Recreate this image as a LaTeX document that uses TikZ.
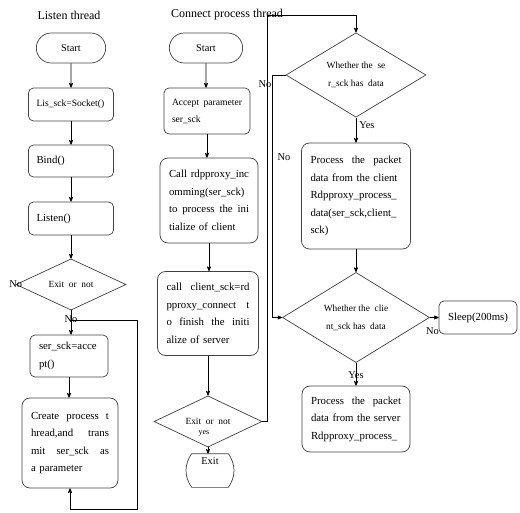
\documentclass[tikz,border=0pt]{standalone}
\usepackage{fontspec}
\setmainfont{Liberation Serif}
\usetikzlibrary{shapes.geometric, shapes.misc, arrows}

\newcommand{\jline}[1]{{\spaceskip=0.3em plus 2em\relax\makebox[\hsize][s]{#1}}}

\tikzset{
  flow/.style={draw=black!75, line width=0.7pt},
  box/.style={flow, rectangle, rounded corners=5pt, align=left, inner xsep=9pt, inner ysep=3pt,
    font=\fontsize{10.8}{17.5}\selectfont},
  smallbox/.style={box, font=\fontsize{9.6}{17}\selectfont},
  term/.style={flow, rounded rectangle, minimum height=30pt, font=\fontsize{10.4}{12}\selectfont},
  decide/.style={flow, diamond, inner sep=0pt, align=center, font=\fontsize{9.4}{18}\selectfont},
  lbl/.style={inner sep=1pt, font=\fontsize{10.4}{12}\selectfont},
  title/.style={font=\fontsize{12}{14}\selectfont},
}

\begin{document}
\begin{tikzpicture}[x=1pt,y=-1pt,>=stealth',line width=0.7pt]
        \useasboundingbox (0,0) rectangle (520,513);
        % titles
        \node[title](t_listen) at (69,15) {Listen thread};
        \node[title](t_conn) at (227,15) {Connect process thread};

        % listen thread
        \node[term,minimum width=76pt](start_l) at (71,48) {Start};
        \node[smallbox,text width=69pt,inner xsep=8pt,minimum height=33pt](lis_sck) at (71,104.5) {Lis\_sck=Socket()};
        \node[box,text width=69pt,inner xsep=8pt,minimum height=32pt](bind) at (71,161) {Bind()};
        \node[box,text width=69pt,inner xsep=8pt,minimum height=33pt](listen) at (71,218.5) {Listen()};
        \node[decide,minimum width=110pt,minimum height=45pt](exit_l) at (71,284.5) {Exit\ \ or\ \ not};
        \node[box,text width=60pt,minimum height=42pt](accept) at (69,356) {ser\_sck=acce\\pt()};
        \node[box,text width=78pt,minimum height=90pt,rounded corners=8pt](create_t) at (70,443)
            {\jline{Create process t}\\\jline{hread,and trans}\\\jline{mit ser\_sck as}\\a parameter};

        % connect process thread
        \node[term,minimum width=80pt](start_c) at (206,48) {Start};
        \node[smallbox,text width=70pt,inner xsep=8pt,minimum height=46pt](param) at (207,111) {\jline{Accept parameter}\\ser\_sck};
        \node[box,text width=80pt,minimum height=85pt,rounded corners=8pt](incom) at (209,200.5)
            {\jline{Call rdpproxy\_inc}\\\jline{omming(ser\_sck)}\\\jline{to process the ini}\\tialize of client};
        \node[box,text width=83pt,minimum height=84pt,rounded corners=8pt](connect) at (208,313.5)
            {\jline{call client\_sck=rd}\\\jline{pproxy\_connect t}\\\jline{o finish the initi}\\alize of server};
        \node[decide,minimum width=108pt,minimum height=47pt](exit_c) at (208,421.5) {Exit\ \ or\ \ not};
        \node[minimum width=36pt,minimum height=33pt,inner ysep=1pt,text height=9pt,text depth=22pt,
            font=\fontsize{10.4}{12}\selectfont](exit_t) at (210,470.5) {Exit};
        \draw[flow] (exit_t.north west) to[bend right=35] (exit_t.south west) -- (exit_t.south east)
            to[bend right=35] (exit_t.north east) -- cycle;

        % data transfer loop
        \node[decide,minimum width=140pt,minimum height=76pt](has_ser) at (356,75) {Whether\ the\ \ se\\r\_sck\ has\ \ data};
        \node[box,text width=91pt,minimum height=106pt,rounded corners=8pt](proc_cli) at (356,196)
            {\jline{Process the packet}\\data from the client\\Rdpproxy\_process\_\\data(ser\_sck,client\_\\sck)};
        \node[decide,minimum width=147pt,minimum height=77pt](has_cli) at (356,317.5) {Whether\ the\ \ clie\\nt\_sck\ has\ \ data};
        \node[box,align=center,minimum width=78pt,minimum height=33pt,inner xsep=4pt](sleep) at (478,317.5) {Sleep(200ms)};
        \node[box,text width=90pt,minimum height=66pt,rounded corners=8pt](proc_ser) at (356,419)
            {\jline{Process the packet}\\data from the server\\Rdpproxy\_process\_};

        % stray labels
        \node[lbl](no_l) at (exit_l.west) {No};
        \node[lbl](no_r) at (284,157) {No};
        \node[lbl,font=\fontsize{8}{10}\selectfont](yes_c) at (204,433) {yes};

        % listen thread arrows
        \draw[->] (start_l) -- (start_l |- lis_sck.north);
        \draw[->] (lis_sck) -- (lis_sck |- bind.north);
        \draw[->] (bind) -- (bind |- listen.north);
        \draw[->] (listen) -- (exit_l);
        \draw[->] (exit_l) -- node[lbl,pos=0.35]{No} (exit_l |- accept.north);
        \draw[->] (accept) -- (accept |- create_t.north);
        \draw[->] ([yshift=-10pt]exit_l.south) -- ++(66,0) |- ([yshift=-21pt]create_t.south) -- (create_t.south);

        % connect thread arrows
        \draw[->] (start_c) -- (start_c |- param.north);
        \draw[->] (param) -- (param |- incom.north);
        \draw[->] (incom) -- (incom |- connect.north);
        \draw[->] (connect) -- (exit_c);
        \draw[->] (exit_c) -- (exit_c |- exit_t.north);
        \draw[->] (exit_c.east) -- ++(5,0) |- (has_ser.north |- t_conn) -- (has_ser.north);

        % loop arrows
        \draw[->] (has_ser.west) -- ++(-13,0) node[lbl,anchor=north east,yshift=-4pt]{No} |- (has_cli.west);
        \draw[->] (has_ser) -- node[lbl,right,pos=0.3,xshift=2pt]{Yes} (has_ser |- proc_cli.north);
        \draw[->] (proc_cli) -- (has_cli);
        \draw[->] (has_cli) -- node[lbl,pos=0.3,anchor=north,yshift=-9pt]{No} (sleep);
        \draw[->] (has_cli) -- node[lbl,pos=0.53]{Yes} (has_cli |- proc_ser.north);
\end{tikzpicture}
\end{document}
